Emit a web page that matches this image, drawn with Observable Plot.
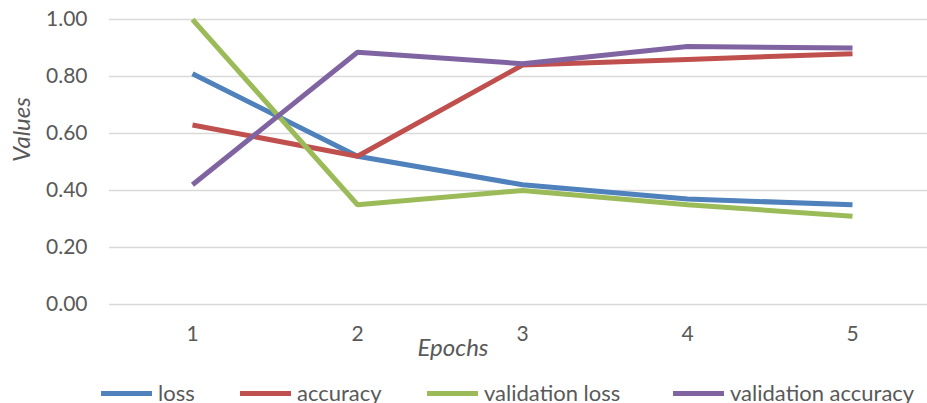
<!DOCTYPE html>
<html>
<head>
<meta charset="utf-8">
<script src="https://cdn.jsdelivr.net/npm/d3@7"></script>
<script src="https://cdn.jsdelivr.net/npm/@observablehq/plot@0.6"></script>
<style>
  html, body { margin: 0; padding: 0; background: #fff; overflow: hidden; }
  body { width: 927px; height: 403px; font-family: Lato, "Open Sans", sans-serif; color: #595959; }
  #chart svg { display: block; }
  #legend { position: relative; height: 25px; font-size: 22px; color: #595959; }
  .item { position: absolute; top: 2px; display: flex; align-items: center; white-space: nowrap; line-height: 26px; }
  .sw { width: 51px; height: 5px; margin-right: 6px; }
</style>
</head>
<body>
<div id="chart"></div>
<div id="legend"></div>
<script>
const epochs = [1, 2, 3, 4, 5];
const loss = [0.81, 0.52, 0.42, 0.37, 0.35];
const accuracy = [0.63, 0.52, 0.84, 0.86, 0.88];
const validationLoss = [1.00, 0.35, 0.40, 0.35, 0.31];
const validationAccuracy = [0.42, 0.885, 0.845, 0.905, 0.90];
const seriesNames = ["loss", "accuracy", "validation loss", "validation accuracy"];
const seriesColors = ["#4F81BD", "#C0504D", "#9BBB59", "#8064A2"];
const yTicks = [0, 0.2, 0.4, 0.6, 0.8, 1.0];

const allSeries = [loss, accuracy, validationLoss, validationAccuracy];
const data = [];
allSeries.forEach((vals, i) => vals.forEach((v, j) => data.push({epoch: epochs[j], value: v, series: seriesNames[i]})));

const chart = Plot.plot({
  width: 927,
  height: 378,
  marginLeft: 109,
  marginRight: -7,
  marginTop: 19,
  marginBottom: 74,
  style: {fontFamily: "Lato, 'Open Sans', sans-serif", fontSize: "21px", color: "#595959", background: "#fff"},
  x: {type: "point", domain: epochs, padding: 0.5},
  y: {domain: [0, 1]},
  color: {domain: seriesNames, range: seriesColors},
  marks: [
    Plot.gridY(yTicks, {stroke: "#d9d9d9", strokeOpacity: 1, strokeWidth: 1.5}),
    Plot.axisY(yTicks, {tickSize: 0, tickPadding: 22, tickFormat: d3.format(".2f"), label: null, fontSize: 21}),
    Plot.axisX(epochs, {tickSize: 0, tickPadding: 22, label: null, fontSize: 21}),
    Plot.text(["Values"], {frameAnchor: "left", dx: -87, rotate: -90, fontStyle: "italic", fontSize: 24, fill: "#595959"}),
    Plot.text(["Epochs"], {frameAnchor: "bottom", dx: -69, dy: 51, fontStyle: "italic", fontSize: 24, fill: "#595959"}),
    Plot.line(data, {x: "epoch", y: "value", z: "series", stroke: "series", strokeWidth: 5, strokeLinejoin: "miter", strokeLinecap: "butt"})
  ]
});
document.getElementById("chart").appendChild(chart);

const legendX = [101, 240, 427, 673];
const legend = document.getElementById("legend");
seriesNames.forEach((name, i) => {
  const it = document.createElement("div");
  it.className = "item";
  it.style.left = legendX[i] + "px";
  it.innerHTML = `<span class="sw" style="background:${seriesColors[i]}"></span><span>${name}</span>`;
  legend.appendChild(it);
});
</script>
</body>
</html>
